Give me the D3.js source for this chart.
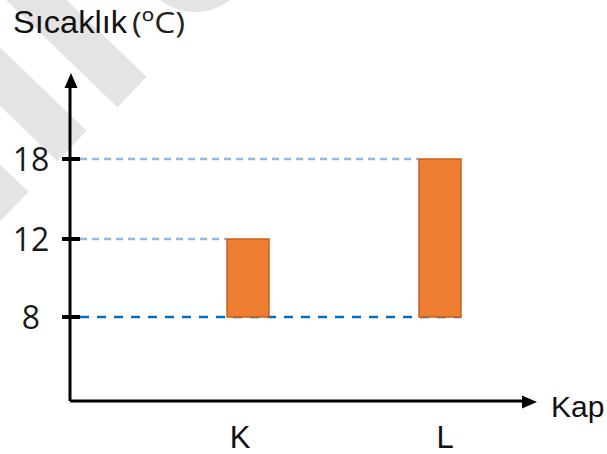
<!DOCTYPE html>
<html>
<head>
<meta charset="utf-8">
<script src="https://cdn.jsdelivr.net/npm/d3@7"></script>
<style>
  body { margin: 0; background: #fff; }
  svg { display: block; }
</style>
</head>
<body>
<script>
// chart data
var categories = ["K", "L"];
var startTemps = [8, 8];
var endTemps = [12, 18];
var tickValues = [8, 12, 18];
var yTitle = "Sıcaklık";
var yUnit = "(ºC)";
var xTitle = "Kap";

var w = 607, h = 454;
var origin = { x: 70, y: 401 };

// schematic (not to scale) temperature axis
var y = d3.scaleLinear()
    .domain([0, 8, 12, 18])
    .range([origin.y, 317, 239, 159]);

var x = d3.scalePoint().domain(categories).range([248, 440]);
var xLabel = d3.scalePoint().domain(categories).range([240, 445]);
var barW = 42;

var svg = d3.select("body").append("svg")
    .attr("width", w)
    .attr("height", h);

// faint watermark in the background
var wm = svg.append("g").attr("fill", "#e4e4e4").attr("stroke", "none");
wm.append("circle").attr("cx", 195).attr("cy", -45).attr("r", 57);
[[132, 92], [72, 146], [14, 207]].forEach(function(c) {
  var len = 160, hw = 21, a = Math.PI / 4.1;
  var dx = Math.cos(a), dy = Math.sin(a);
  var ex = c[0], ey = c[1], sx = ex - dx * len, sy = ey - dy * len;
  var px = -dy * hw, py = dx * hw;
  wm.append("path").attr("d",
    "M" + (sx + px) + "," + (sy + py) +
    "L" + (ex + px) + "," + (ey + py) +
    "L" + (ex - px) + "," + (ey - py) +
    "L" + (sx - px) + "," + (sy - py) + "Z");
});

// dashed guide lines from the axis to the bars
var guides = [
  { v: endTemps[1], to: x("L") - barW / 2, color: "#8db9e3", dash: "7,5" },
  { v: endTemps[0], to: x("K") - barW / 2, color: "#8db9e3", dash: "7,5" },
  { v: startTemps[0], to: x("L") + barW / 2, color: "#0070c0", dash: "9,8" }
];
svg.selectAll("line.guide").data(guides).enter().append("line")
    .attr("class", "guide")
    .attr("x1", 80).attr("x2", function(d) { return d.to; })
    .attr("y1", function(d) { return y(d.v); })
    .attr("y2", function(d) { return y(d.v); })
    .attr("stroke", function(d) { return d.color; })
    .attr("stroke-width", 2.3)
    .attr("stroke-dasharray", function(d) { return d.dash; });

// bars
svg.selectAll("rect.bar").data(categories).enter().append("rect")
    .attr("class", "bar")
    .attr("x", function(d) { return x(d) - barW / 2; })
    .attr("y", function(d, i) { return y(endTemps[i]); })
    .attr("width", barW)
    .attr("height", function(d, i) { return y(startTemps[i]) - y(endTemps[i]); })
    .attr("fill", "#ed7d31")
    .attr("stroke", "#c8621f")
    .attr("stroke-width", 1.5);

// axes with arrows
var axisG = svg.append("g").attr("stroke", "#000").attr("fill", "none");
axisG.append("path")
    .attr("d", "M" + origin.x + "," + origin.y + "V86M522," + origin.y + "H" + origin.x)
    .attr("stroke-width", 3);
svg.append("path")
    .attr("d", "M71,73L64.5,88L77.5,88Z M537,402L522,395.5L522,408.5Z")
    .attr("fill", "#000");

// ticks
svg.selectAll("line.tick").data(tickValues).enter().append("line")
    .attr("class", "tick")
    .attr("x1", 62).attr("x2", 80)
    .attr("y1", function(d) { return y(d); })
    .attr("y2", function(d) { return y(d); })
    .attr("stroke", "#000")
    .attr("stroke-width", 4);

svg.selectAll("text.ytick").data(tickValues).enter().append("text")
    .attr("class", "ytick")
    .attr("x", 31)
    .attr("y", function(d) { return y(d); })
    .attr("dy", "0.36em")
    .attr("text-anchor", "middle")
    .attr("font-family", "Open Sans")
    .attr("font-size", 32)
    .attr("fill", "#1a1a1a")
    .text(function(d) { return d; });

// category labels
svg.selectAll("text.xlab").data(categories).enter().append("text")
    .attr("class", "xlab")
    .attr("x", function(d) { return xLabel(d); })
    .attr("y", 448)
    .attr("text-anchor", "middle")
    .attr("font-family", "Liberation Sans")
    .attr("font-size", 31)
    .attr("fill", "#111")
    .text(function(d) { return d; });

// titles
svg.append("text")
    .attr("x", 13).attr("y", 33)
    .attr("font-family", "Liberation Sans")
    .attr("font-size", 31)
    .attr("textLength", 114)
    .attr("lengthAdjust", "spacingAndGlyphs")
    .attr("fill", "#111")
    .text(yTitle);

svg.append("text")
    .attr("x", 132).attr("y", 33)
    .attr("font-family", "Open Sans")
    .attr("font-size", 30)
    .attr("textLength", 53)
    .attr("lengthAdjust", "spacingAndGlyphs")
    .attr("fill", "#222")
    .text(yUnit);

svg.append("text")
    .attr("x", 551).attr("y", 417)
    .attr("font-family", "Liberation Sans")
    .attr("font-size", 30)
    .attr("fill", "#111")
    .text(xTitle);
</script>
</body>
</html>
